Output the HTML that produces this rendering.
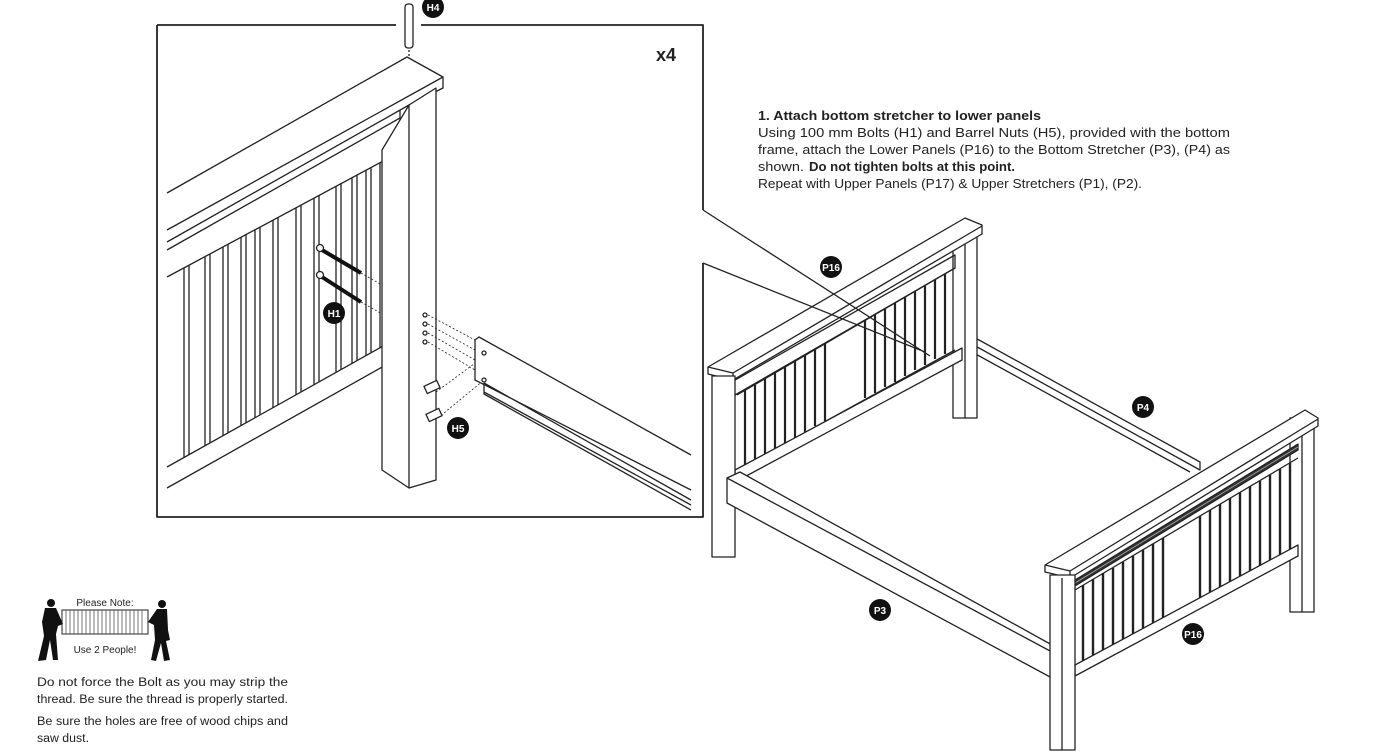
<!DOCTYPE html>
<html><head><meta charset="utf-8"><style>
html,body{margin:0;padding:0;background:#fff;}
svg{display:block;}
text{font-family:"Liberation Sans",sans-serif;}
</style></head><body>
<svg width="1373" height="756" viewBox="0 0 1373 756" xmlns="http://www.w3.org/2000/svg">
<g fill="none" stroke="#222" stroke-width="1.3" stroke-linejoin="round">
<!-- inset box -->
<path d="M157,25 V517 H703 V263 M703,210 V25 H421 M396,25 H157" stroke-width="1.8"/>
<!-- H4 pin -->
<rect x="405" y="4" width="8" height="44" rx="3" fill="#fff"/>
<path d="M409,50 V76" stroke-dasharray="2,2"/>
<ellipse cx="409" cy="76" rx="3.5" ry="2.5"/>
<!-- cap -->
<path d="M167,193 L407,57 L443,77 L443,88 L409,105 L167,242" fill="#fff"/>
<path d="M167,230 L443,77"/>
<!-- upper panel rail -->
<path d="M167,277 L400,152 V110"/>
<path d="M167,250 L400,118"/>
<!-- slats -->
<path d="M184,268V457M189,265V455M205,257V446M210,254V443M223,247V436M228,244V433M241,237V426M246,234V423M255,230V418M260,227V415M273,220V408M278,217V405M296,208V395M301,205V392M314,198V385M319,195V382M336,186V373M341,183V370M352,178V364M357,175V361M366,170V356M371,167V353M380,163V348M385,160V345"/>
<!-- lower rail -->
<path d="M167,467 L385,345 L400,337 V357 L167,488" fill="#fff"/>
<path d="M385,345 V337 L400,330 V337"/>
<!-- post -->
<path d="M382,150 V470 L409,488 L436,480 V88 L409,105 Z" fill="#fff"/>
<path d="M409,105 V488"/>
<!-- bolts -->
<path d="M322,250 L361,273 M322,277 L361,302" stroke="#111" stroke-width="4"/>
<circle cx="320" cy="248" r="3.5" fill="#fff"/>
<circle cx="320" cy="275" r="3.5" fill="#fff"/>
<path d="M361,273 L382,285 M361,302 L382,314" stroke-dasharray="2,2" stroke-width="0.8"/>
<!-- holes & dotted -->
<circle cx="425" cy="315" r="2"/><circle cx="425" cy="324" r="2"/><circle cx="425" cy="333" r="2"/><circle cx="425" cy="342" r="2"/>
<path d="M428,315 L475,340 M428,324 L475,350 M428,333 L475,360 M428,342 L475,370 M436,392 L482,358 M438,418 L484,380" stroke-dasharray="2,2" stroke-width="0.8"/>
<!-- nuts -->
<rect x="425" y="383" width="14" height="8" transform="rotate(-25 432 387)" fill="#fff"/>
<rect x="427" y="411" width="14" height="8" transform="rotate(-25 434 415)" fill="#fff"/>
<!-- side rail in inset -->
<path d="M475,340 L479,337 L691,455 M475,340 V380 L691,490" fill="#fff"/>
<circle cx="484" cy="353" r="2"/><circle cx="484" cy="380" r="2"/>
<path d="M484,383 L691,500 M484,383 V394 L691,510 M484,392 L691,505"/>
<!-- main bed: back side rail P4 -->
<path d="M970,335 L1200,462 L1200,470 L970,343 Z" fill="#fff"/>
<path d="M972,352 L1190,472"/>
<!-- headboard back post -->
<rect x="953" y="232" width="24" height="186" fill="#fff"/>
<path d="M965,232 V418"/>
<!-- headboard -->
<path d="M737,395 L955,268 M737,470 L955,350"/>
<path d="M745,390V466M755,385V460M765,379V454M775,373V449M785,367V443M795,361V438M805,355V432M815,350V426M825,344V421M865,320V398M875,315V393M885,309V387M895,303V382M905,297V376M915,291V370M925,286V365M935,280V359M945,274V354" stroke-width="2.2"/>
<path d="M735,380 L955,255 L955,268 L735,395"/>
<path d="M735,470 L962,348 L962,360 L735,482 Z" fill="#fff"/>
<path d="M708,367 L965,218 L982,225 L982,234 L733,380 L708,374 Z" fill="#fff"/>
<path d="M708,367 L733,373 L982,226 M733,373 V380"/>
<rect x="712" y="376" width="23" height="181" fill="#fff"/>
<!-- front side rail P3 -->
<path d="M727,478 L740,472 L1052,645 L1052,678 L727,503 Z" fill="#fff"/>
<path d="M727,478 L1052,652"/>
<!-- footboard right post -->
<rect x="1290" y="418" width="24" height="194" fill="#fff"/>
<path d="M1302,420 V612"/>
<!-- footboard slats -->
<path d="M1075,590 L1298,458" />
<path d="M1083,585V661M1093,579V655M1103,573V650M1113,568V645M1123,562V639M1133,556V634M1143,550V628M1153,544V623M1163,538V618M1200,516V598M1210,510V592M1220,504V587M1230,498V582M1240,492V576M1250,486V571M1260,481V566M1270,475V560M1280,469V555M1290,463V549" stroke-width="2.4"/>
<path d="M1075,580 L1298,444 L1298,450 L1075,586 Z" fill="#333"/>
<path d="M1075,583 L1298,447" stroke="#aaa" stroke-width="0.8"/>
<path d="M1075,665 L1298,545 L1298,556 L1075,676 Z" fill="#fff"/>
<path d="M1045,565 L1305,410 L1318,418 L1318,426 L1070,578 L1045,572 Z" fill="#fff"/>
<path d="M1045,565 L1070,571 L1318,419 M1070,571 V578"/>
<rect x="1050" y="575" width="25" height="175" fill="#fff"/>
<path d="M1062,578 V750"/>
<!-- callout lines on top -->
<path d="M703,210 L930,356 M703,263 L925,352"/>
</g>
<!-- note icon -->
<g>
<rect x="62" y="610" width="86" height="24" fill="#fff" stroke="#222"/>
<path d="M66,610V634M70,610V634M74,610V634M78,610V634M82,610V634M86,610V634M90,610V634M94,610V634M98,610V634M102,610V634M106,610V634M110,610V634M114,610V634M118,610V634M122,610V634M126,610V634M130,610V634M134,610V634M138,610V634M142,610V634" stroke="#555" stroke-width="0.8"/>
<circle cx="51" cy="603" r="4" fill="#111"/>
<path d="M45,608 L56,608 L63,624 L58,626 L56,634 L58,660 L53,660 L50,640 L46,660 L38,661 L44,636 L42,622 Z" fill="#111"/>
<circle cx="162" cy="604" r="4" fill="#111"/>
<path d="M157,609 L167,609 L168,630 L170,640 L166,641 L170,660 L164,661 L161,643 L156,661 L151,660 L155,640 L154,625 L148,622 Z" fill="#111"/>
<text x="105" y="606" font-size="10" text-anchor="middle" fill="#222">Please Note:</text>
<text x="105" y="653" font-size="10" text-anchor="middle" fill="#222">Use 2 People!</text>
</g>
<g font-size="11.5" fill="#222">
<text x="37" y="686" textLength="251" lengthAdjust="spacingAndGlyphs">Do not force the Bolt as you may strip the</text>
<text x="37" y="703" textLength="251" lengthAdjust="spacingAndGlyphs">thread. Be sure the thread is properly started.</text>
<text x="37" y="725" textLength="251" lengthAdjust="spacingAndGlyphs">Be sure the holes are free of wood chips and</text>
<text x="37" y="742" textLength="52" lengthAdjust="spacingAndGlyphs">saw dust.</text>
</g>
<!-- instruction text -->
<g font-size="12.5" fill="#222">
<text x="758" y="120" font-weight="bold" textLength="283" lengthAdjust="spacingAndGlyphs">1. Attach bottom stretcher to lower panels</text>
<text x="758" y="137" textLength="472" lengthAdjust="spacingAndGlyphs">Using 100 mm Bolts (H1) and Barrel Nuts (H5), provided with the bottom</text>
<text x="758" y="154" textLength="472" lengthAdjust="spacingAndGlyphs">frame, attach the Lower Panels (P16) to the Bottom Stretcher (P3), (P4) as</text>
<text x="758" y="171" textLength="46" lengthAdjust="spacingAndGlyphs">shown.</text>
<text x="809" y="171" font-weight="bold" textLength="206" lengthAdjust="spacingAndGlyphs">Do not tighten bolts at this point.</text>
<text x="758" y="188" textLength="384" lengthAdjust="spacingAndGlyphs">Repeat with Upper Panels (P17) &amp; Upper Stretchers (P1), (P2).</text>
</g>
<text x="666" y="61" font-size="18" font-weight="bold" text-anchor="middle" fill="#222">x4</text>
<!-- badges -->
<g fill="#111">
<circle cx="433" cy="7" r="11"/><circle cx="334" cy="313" r="11"/><circle cx="458" cy="428" r="11"/>
<circle cx="831" cy="267" r="11"/><circle cx="1143" cy="407" r="11"/><circle cx="880" cy="610" r="11"/><circle cx="1193" cy="634" r="11"/>
</g>
<g fill="#fff" font-size="10" font-weight="bold" text-anchor="middle">
<text x="433" y="11">H4</text><text x="334" y="317">H1</text><text x="458" y="432">H5</text>
<text x="831" y="271">P16</text><text x="1143" y="411">P4</text><text x="880" y="614">P3</text><text x="1193" y="638">P16</text>
</g>
</svg>
</body></html>
